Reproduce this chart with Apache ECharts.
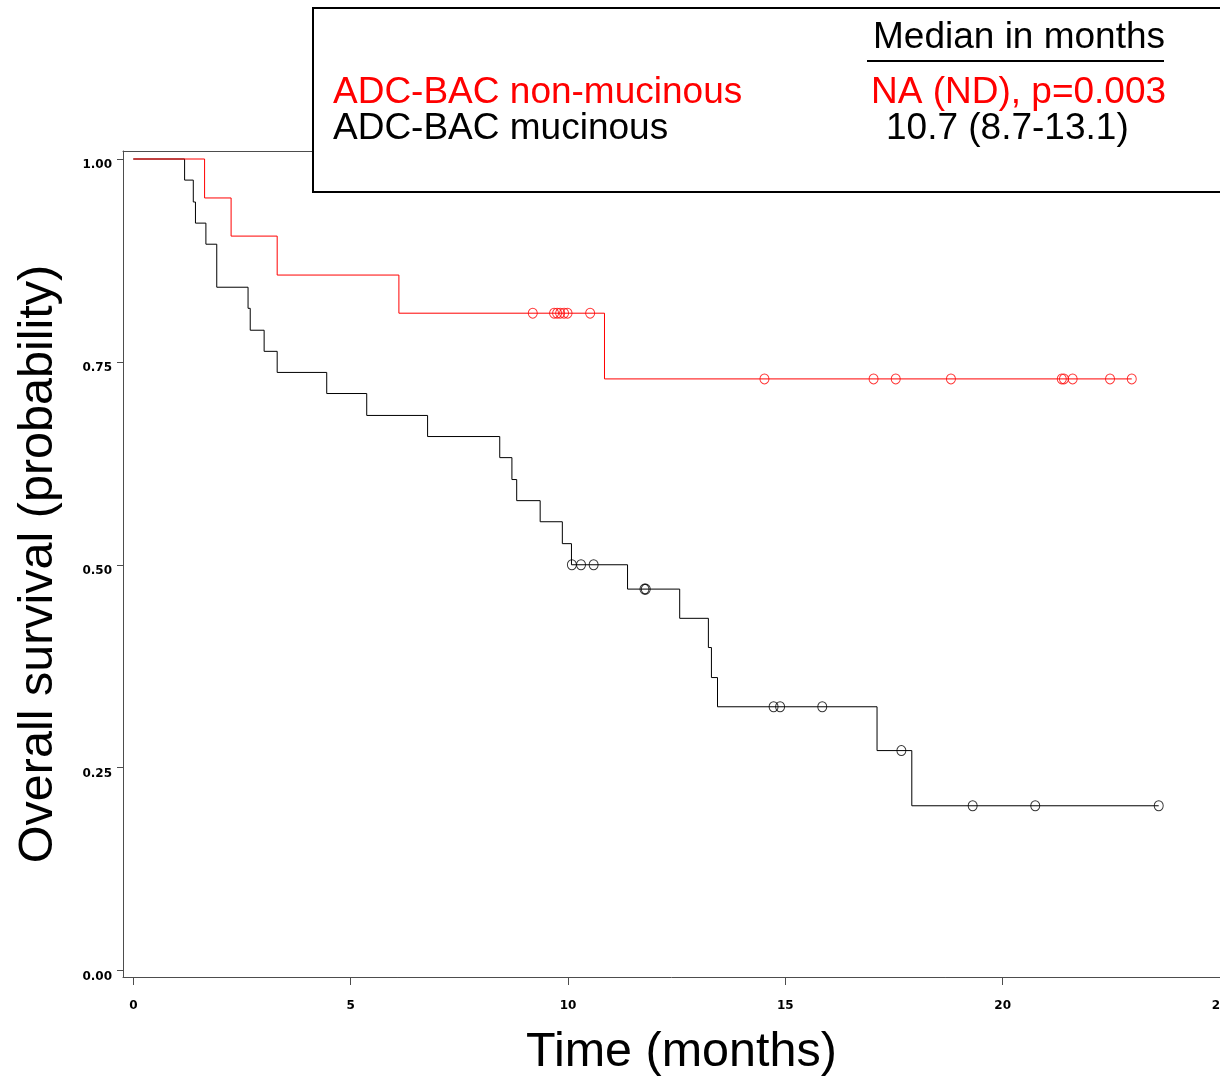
<!DOCTYPE html>
<html>
<head>
<meta charset="utf-8">
<title>Overall survival</title>
<script src="https://cdn.jsdelivr.net/npm/echarts@6.0.0/dist/echarts.min.js"></script>
<style>
  html, body { margin: 0; padding: 0; background: #fff; }
  #app { width: 1220px; height: 1077px; }
</style>
</head>
<body>
<div id="app"></div>
<script>
// step curve of ADC-BAC non-mucinous (red)
const redTimes = [0, 1.64, 2.25, 3.31, 6.11, 10.84, 22.97];
const redSurv = [1, 0.952, 0.905, 0.857, 0.810, 0.729, 0.729];
// censored patients, red
const redCensorTimes = [9.19, 9.68, 9.75, 9.82, 9.91, 9.99, 10.51, 14.52, 17.03, 17.54, 18.81, 21.36, 21.41, 21.61, 22.47, 22.97];
const redCensorSurv = [0.810, 0.810, 0.810, 0.810, 0.810, 0.810, 0.810, 0.729, 0.729, 0.729, 0.729, 0.729, 0.729, 0.729, 0.729, 0.729];

// step curve of ADC-BAC mucinous (black)
const blackTimes = [0, 1.18, 1.38, 1.43, 1.67, 1.92, 2.64, 2.69, 3.01, 3.31, 4.45, 5.37, 6.77, 8.43, 8.71, 8.82, 9.36, 9.87, 10.08, 11.37, 12.57, 13.23, 13.30, 13.44, 17.11, 17.91, 23.59];
const blackSurv = [1, 0.974, 0.947, 0.921, 0.895, 0.842, 0.816, 0.789, 0.763, 0.737, 0.711, 0.684, 0.658, 0.632, 0.605, 0.579, 0.553, 0.526, 0.500, 0.470, 0.434, 0.398, 0.361, 0.325, 0.271, 0.203, 0.203];
const blackCensorTimes = [10.09, 10.30, 10.59, 11.76, 11.79, 14.73, 14.88, 15.85, 17.67, 19.31, 20.75, 23.59];
const blackCensorSurv = [0.500, 0.500, 0.500, 0.470, 0.470, 0.325, 0.325, 0.325, 0.271, 0.203, 0.203, 0.203];

const xTicks = [0, 5, 10, 15, 20, 25];
const yTicks = [0, 0.25, 0.5, 0.75, 1];

const legendHead = 'Median in months';
const legendRows = [
  { name: 'ADC-BAC non-mucinous', median: 'NA (ND), p=0.003', color: '#ff0000' },
  { name: 'ADC-BAC mucinous', median: '10.7 (8.7-13.1)', color: '#000000' }
];

const zip = (xs, ys) => xs.map((x, i) => [x, ys[i]]);

const axisGrey = '#4d4d4d';
const tickFont = { color: '#000', fontFamily: 'DejaVu Sans', fontWeight: 'bold', fontSize: 12 };
const titleFont = { fontFamily: 'Liberation Sans', fontSize: 48.5, color: '#000' };
const boxFont = '37px "Liberation Sans"';

const chart = echarts.init(document.getElementById('app'));

const option = {
  animation: false,
  backgroundColor: '#fff',
  grid: { left: 123, top: 151, right: 0, bottom: 100, outerBoundsMode: 'none', containLabel: false },
  xAxis: [
    {
      type: 'value',
      min: -0.237,
      max: 25,
      name: 'Time (months)',
      nameLocation: 'middle',
      nameGap: 51,
      nameTextStyle: Object.assign({ padding: [0, 0, 0, 20] }, titleFont),
      axisLine: { show: true, onZero: false, lineStyle: { color: axisGrey, width: 1 } },
      axisTick: { show: true, customValues: xTicks, length: 8, lineStyle: { color: axisGrey } },
      axisLabel: Object.assign({ customValues: xTicks, margin: 23 }, tickFont),
      splitLine: { show: false }
    },
    {
      type: 'value',
      position: 'top',
      min: -0.237,
      max: 25,
      axisLine: { show: true, onZero: false, lineStyle: { color: axisGrey, width: 1 } },
      axisTick: { show: false },
      axisLabel: { show: false },
      splitLine: { show: false }
    }
  ],
  yAxis: {
    type: 'value',
    min: -0.008,
    max: 1.00986,
    name: 'Overall survival (probability)',
    nameLocation: 'middle',
    nameGap: 60,
    nameTextStyle: titleFont,
    axisLine: { show: true, onZero: false, lineStyle: { color: axisGrey, width: 1 } },
    axisTick: { show: true, customValues: yTicks, length: 6, lineStyle: { color: axisGrey } },
    axisLabel: Object.assign({
      customValues: yTicks,
      margin: 11,
      verticalAlign: 'top',
      formatter: v => v.toFixed(2)
    }, tickFont),
    splitLine: { show: false }
  },
  series: [
    {
      name: legendRows[1].name,
      type: 'line',
      step: 'end',
      showSymbol: false,
      data: zip(blackTimes, blackSurv),
      lineStyle: { color: '#000', width: 1 },
      z: 2
    },
    {
      name: legendRows[0].name,
      type: 'line',
      step: 'end',
      showSymbol: false,
      data: zip(redTimes, redSurv),
      lineStyle: { color: '#ff0000', width: 1 },
      z: 3
    },
    {
      type: 'scatter',
      symbol: 'circle',
      symbolSize: [9, 10],
      data: zip(blackCensorTimes, blackCensorSurv),
      itemStyle: { color: 'rgba(0,0,0,0)', borderColor: '#000', borderWidth: 1 },
      z: 4
    },
    {
      type: 'scatter',
      symbol: 'circle',
      symbolSize: [9, 10],
      data: zip(redCensorTimes, redCensorSurv),
      itemStyle: { color: 'rgba(0,0,0,0)', borderColor: '#ff0000', borderWidth: 1 },
      z: 5
    }
  ],
  graphic: [
    {
      type: 'rect',
      z: 100,
      shape: { x: 313, y: 8, width: 1000, height: 184 },
      style: { fill: '#fff', stroke: '#000', lineWidth: 2 }
    },
    {
      type: 'text',
      z: 101,
      x: 873, y: 38,
      style: { text: legendHead, fill: '#000', font: boxFont, verticalAlign: 'middle' }
    },
    {
      type: 'line',
      z: 101,
      shape: { x1: 867, y1: 61, x2: 1164, y2: 61 },
      style: { stroke: '#000', lineWidth: 2 }
    },
    {
      type: 'text',
      z: 101,
      x: 333, y: 93,
      style: { text: legendRows[0].name, fill: legendRows[0].color, font: boxFont, verticalAlign: 'middle' }
    },
    {
      type: 'text',
      z: 101,
      x: 333, y: 129,
      style: { text: legendRows[1].name, fill: legendRows[1].color, font: boxFont, verticalAlign: 'middle' }
    },
    {
      type: 'text',
      z: 101,
      x: 871, y: 93,
      style: { text: legendRows[0].median, fill: legendRows[0].color, font: boxFont, verticalAlign: 'middle' }
    },
    {
      type: 'text',
      z: 101,
      x: 886, y: 129,
      style: { text: legendRows[1].median, fill: legendRows[1].color, font: boxFont, verticalAlign: 'middle' }
    }
  ]
};

chart.setOption(option);
</script>
</body>
</html>
